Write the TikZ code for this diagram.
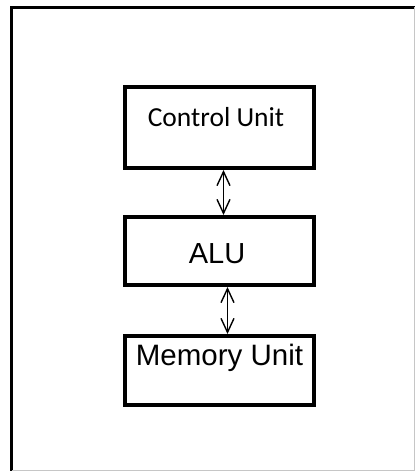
\documentclass[tikz,border=0pt]{standalone}
\usepackage{fontspec}
\setmainfont{Liberation Sans}
\newfontfamily\cufont{Carlito}
\usepackage{tikz}
\usetikzlibrary{arrows.meta, positioning}
\tikzset{
  unitbox/.style={
    draw, line width=4pt, fill=white,
    minimum width=189pt, inner sep=0pt
  },
  unitlabel/.style={
    anchor=base, inner sep=0pt
  },
  busarrow/.style={
    {Straight Barb[length=14pt, width=13pt]}-{Straight Barb[length=14pt, width=13pt]},
    line width=1.4pt
  },
}

\begin{document}
\begin{tikzpicture}[x=1pt, y=-1pt]
  \useasboundingbox (0,0) rectangle (415,471);

  % ── Outer frame ────────────────────────────────────────────────
  \draw[line width=3pt] (11.5,471) -- (11.5,7) -- (415,7);
  \draw[gray!45, line width=1pt] (414.5,7) -- (414.5,470.5) -- (11.5,470.5);

  % ── Units ──────────────────────────────────────────────────────
  \node[unitbox, minimum height=81pt] (cu) at (219.5,127.5) {};
  \node[unitlabel, font=\cufont\fontsize{27.5}{32}\selectfont]
    at (216,126) {Control Unit};

  \node[unitbox, minimum height=68pt] (alu) at (219.5,251) {};
  \node[unitlabel, font=\fontsize{29}{33}\selectfont]
    at (217,263) {ALU};

  \node[unitbox, minimum height=69pt] (mem) at (219.5,370.5) {};
  \node[unitlabel, font=\fontsize{29.5}{34}\selectfont]
    at (219.5,365) {Memory Unit};

  % ── Connections ────────────────────────────────────────────────
  \draw[busarrow] ([xshift=4pt]cu.south) -- ([xshift=4pt]alu.north);
  \draw[busarrow] ([xshift=8pt]alu.south) -- ([xshift=8pt]mem.north);
\end{tikzpicture}
\end{document}
